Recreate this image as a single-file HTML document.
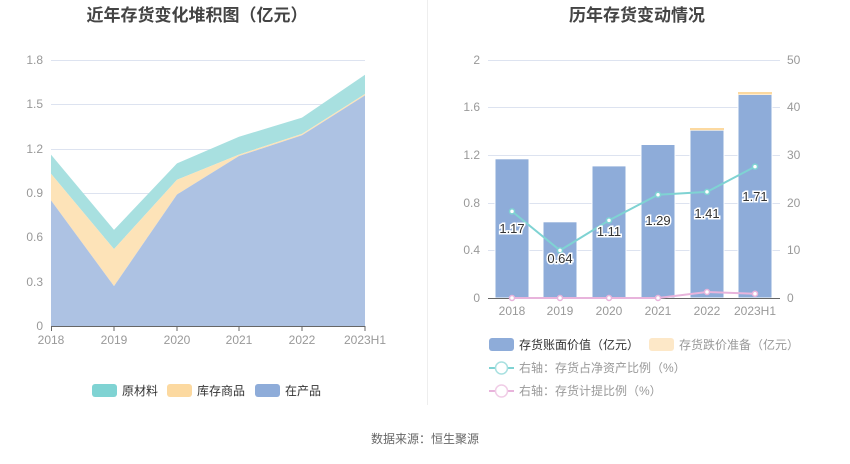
<!DOCTYPE html>
<html><head><meta charset="utf-8"><style>
body{margin:0;width:850px;height:459px;background:#fff;overflow:hidden;font-family:"Liberation Sans","Noto Sans CJK SC",sans-serif}
svg text{font-family:"Liberation Sans","Noto Sans CJK SC",sans-serif}
</style></head><body>
<svg width="850" height="459" xmlns="http://www.w3.org/2000/svg">
<text x="197" y="21" text-anchor="middle" font-size="17" font-weight="bold" fill="#444">近年存货变化堆积图（亿元）</text>
<text x="637" y="21" text-anchor="middle" font-size="17" font-weight="bold" fill="#444">历年存货变动情况</text>
<line x1="427.5" y1="0" x2="427.5" y2="405" stroke="#eee"/>
<!-- left grid -->
<g stroke="#dde3f0" stroke-width="1">
<line x1="51" y1="60.5" x2="365" y2="60.5"/><line x1="51" y1="104.5" x2="365" y2="104.5"/><line x1="51" y1="149.5" x2="365" y2="149.5"/><line x1="51" y1="193.5" x2="365" y2="193.5"/><line x1="51" y1="237.5" x2="365" y2="237.5"/><line x1="51" y1="282.5" x2="365" y2="282.5"/>
</g>
<g font-size="12" fill="#999" text-anchor="end">
<text x="43" y="64">1.8</text><text x="43" y="108">1.5</text><text x="43" y="153">1.2</text><text x="43" y="197">0.9</text><text x="43" y="241">0.6</text><text x="43" y="286">0.3</text><text x="43" y="330">0</text>
</g>
<polygon fill="#a8e0e0" points="51,154.6 114,229.9 177,163.4 239,136.8 302,117.6 365,74.7 365,94 302,133.9 239,154.6 177,179.7 114,249.1 51,173.8"/>
<polygon fill="#fde3b8" points="51,173.8 114,249.1 177,179.7 239,154.6 302,133.9 365,94 365,95.4 302,135.3 239,156 177,194.5 114,286.1 51,200.4"/>
<polygon fill="#adc2e3" points="51,200.4 114,286.1 177,194.5 239,156 302,135.3 365,95.4 365,326 51,326"/>
<line x1="51" y1="326.5" x2="365" y2="326.5" stroke="#666"/>
<g stroke="#666"><line x1="51.5" y1="326" x2="51.5" y2="331"/><line x1="114" y1="326" x2="114" y2="331"/><line x1="177" y1="326" x2="177" y2="331"/><line x1="239" y1="326" x2="239" y2="331"/><line x1="302" y1="326" x2="302" y2="331"/><line x1="365" y1="326" x2="365" y2="331"/></g>
<g font-size="12" fill="#999" text-anchor="middle">
<text x="51" y="344">2018</text><text x="114" y="344">2019</text><text x="177" y="344">2020</text><text x="239" y="344">2021</text><text x="302" y="344">2022</text><text x="365" y="344">2023H1</text>
</g>
<g font-size="12" fill="#333">
<rect x="92" y="384" width="25" height="13" rx="3" fill="#7fd3d3"/><text x="122" y="395">原材料</text>
<rect x="167" y="384" width="25" height="13" rx="3" fill="#fcd9a0"/><text x="197" y="395">库存商品</text>
<rect x="255" y="384" width="25" height="13" rx="3" fill="#8eacd9"/><text x="285" y="395">在产品</text>
</g>
<!-- right chart -->
<g stroke="#dde3f0">
<line x1="488" y1="60.5" x2="780" y2="60.5"/><line x1="488" y1="107.5" x2="780" y2="107.5"/><line x1="488" y1="155.5" x2="780" y2="155.5"/><line x1="488" y1="203.5" x2="780" y2="203.5"/><line x1="488" y1="250.5" x2="780" y2="250.5"/>
</g>
<g font-size="12" fill="#999" text-anchor="end">
<text x="480" y="64">2</text><text x="480" y="111">1.6</text><text x="480" y="159">1.2</text><text x="480" y="207">0.8</text><text x="480" y="254">0.4</text><text x="480" y="302">0</text>
</g>
<g font-size="12" fill="#999">
<text x="787" y="64">50</text><text x="787" y="111">40</text><text x="787" y="159">30</text><text x="787" y="207">20</text><text x="787" y="254">10</text><text x="787" y="302">0</text>
</g>
<g fill="#8eacd9" stroke="#fff" stroke-width="1">
<rect x="495" y="158.8" width="34" height="139.2"/>
<rect x="543" y="221.8" width="34" height="76.2"/>
<rect x="592" y="165.9" width="34" height="132.1"/>
<rect x="641" y="144.5" width="34" height="153.5"/>
<rect x="690" y="130.2" width="34" height="167.8"/>
<rect x="738" y="94.5" width="34" height="203.5"/>
</g>
<rect x="690" y="128" width="34" height="2.2" fill="#fcd9a0"/>
<rect x="738" y="92" width="34" height="2.5" fill="#fcd9a0"/>
<line x1="488" y1="298.5" x2="780" y2="298.5" stroke="#666"/>
<polyline fill="none" stroke="#7fd3d3" stroke-width="2" points="512,211.4 560,250.4 609,220.4 658,194.7 707,191.9 755,166.6"/>
<g fill="#fff" stroke="#7fd3d3" stroke-width="1.5"><circle cx="512" cy="211.4" r="2.5"/><circle cx="560" cy="250.4" r="2.5"/><circle cx="609" cy="220.4" r="2.5"/><circle cx="658" cy="194.7" r="2.5"/><circle cx="707" cy="191.9" r="2.5"/><circle cx="755" cy="166.6" r="2.5"/></g>
<polyline fill="none" stroke="#e8b4dc" stroke-width="2" points="512,298 560,298 609,298 658,298 707,292 755,293.7"/>
<g fill="#fff" stroke="#e8b4dc" stroke-width="1.5"><circle cx="512" cy="298" r="2.5"/><circle cx="560" cy="298" r="2.5"/><circle cx="609" cy="298" r="2.5"/><circle cx="658" cy="298" r="2.5"/><circle cx="707" cy="292" r="2.5"/><circle cx="755" cy="293.7" r="2.5"/></g>
<g font-size="13" fill="#333" text-anchor="middle" stroke="#fff" stroke-width="3" paint-order="stroke">
<text x="512" y="233">1.17</text><text x="560" y="263">0.64</text><text x="609" y="236">1.11</text><text x="658" y="225">1.29</text><text x="707" y="218">1.41</text><text x="755" y="201">1.71</text>
</g>
<g font-size="12" fill="#999" text-anchor="middle">
<text x="512" y="315">2018</text><text x="560" y="315">2019</text><text x="609" y="315">2020</text><text x="658" y="315">2021</text><text x="707" y="315">2022</text><text x="755" y="315">2023H1</text>
</g>
<g font-size="12">
<rect x="489" y="338" width="25" height="13" rx="3" fill="#8eacd9"/><text x="519" y="349" fill="#333">存货账面价值（亿元）</text>
<rect x="649" y="338" width="25" height="13" rx="3" fill="#fde8c8"/><text x="679" y="349" fill="#999">存货跌价准备（亿元）</text>
<line x1="489" y1="368" x2="514" y2="368" stroke="#7fd3d3" stroke-width="2"/><circle cx="501.5" cy="368" r="6" fill="#fff" stroke="#a8e0e0" stroke-width="1.5"/><text x="519" y="372" fill="#999">右轴：存货占净资产比例（%）</text>
<line x1="489" y1="391" x2="514" y2="391" stroke="#e8b4dc" stroke-width="2"/><circle cx="501.5" cy="391" r="6" fill="#fff" stroke="#f0cce6" stroke-width="1.5"/><text x="519" y="395" fill="#999">右轴：存货计提比例（%）</text>
</g>
<text x="425" y="443" text-anchor="middle" font-size="12" fill="#666">数据来源：恒生聚源</text>
</svg>
</body></html>
